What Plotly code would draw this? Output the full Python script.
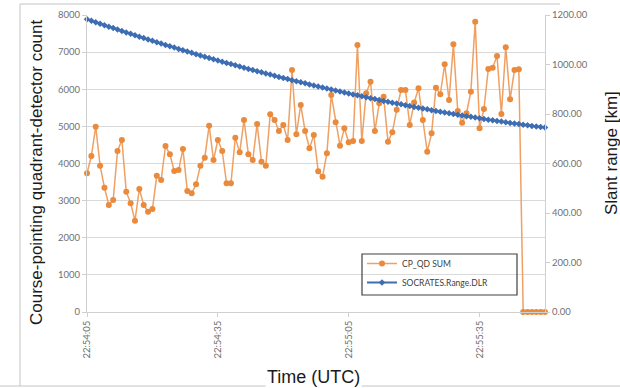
import pandas as pd
import plotly.graph_objects as go

# ---- data ----
start_time = "2000-01-01 22:54:05"
n_seconds = 106  # one sample per second, 22:54:05 .. 22:55:50

cp_qd_sum = [
    3736, 4202, 4993, 3942, 3349, 2883, 3017, 4337, 4634, 3241, 2928, 2460, 3313, 2883, 2702, 2775, 3672, 3556,
    4472, 4248, 3798, 3825, 4391, 3260, 3197, 3440, 3942, 4157, 5020, 4095, 4634, 4337, 3467, 3467, 4696, 4300,
    5172, 4248, 4095, 5065, 4049, 3942, 5326, 5172, 4876, 5038, 4634, 6520, 4787, 5577, 4876, 4410, 4768, 3790,
    3645, 4275, 5846, 5110, 4480, 4948, 4571, 4607, 7193, 4607, 5892, 6205, 4876, 5622, 5800, 4588, 4841, 5450,
    5980, 5980, 5038, 5640, 6026, 5172, 4318, 4814, 6043, 5865, 6673, 5711, 7212, 5415, 5100, 5353, 5935, 7821,
    4948, 5469, 6546, 6582, 6897, 5334, 7131, 5730, 6520, 6538,
    0, 0, 0, 0, 0, 0,
]

slant_range_km = [
    1183.0, 1176.9, 1170.9, 1164.9, 1158.9, 1152.9, 1147.0, 1141.2, 1135.3, 1129.5,
    1123.8, 1118.1, 1112.4, 1106.7, 1101.1, 1095.6, 1090.0, 1084.5, 1079.1, 1073.7,
    1068.3, 1062.9, 1057.6, 1052.3, 1047.1, 1041.9, 1036.7, 1031.6, 1026.5, 1021.4,
    1016.4, 1011.4, 1006.5, 1001.6, 996.7, 991.9, 987.1, 982.3, 977.6, 972.9,
    968.3, 963.6, 959.1, 954.5, 950.0, 945.6, 941.1, 936.7, 932.4, 928.1,
    923.8, 919.5, 915.3, 911.2, 907.0, 902.9, 898.9, 894.8, 890.9, 886.9,
    883.0, 879.1, 875.3, 871.5, 867.7, 864.0, 860.3, 856.6, 853.0, 849.4,
    845.9, 842.4, 838.9, 835.5, 832.1, 828.7, 825.4, 822.1, 818.8, 815.6,
    812.4, 809.3, 806.2, 803.1, 800.1, 797.1, 794.2, 791.2, 788.4, 785.5,
    782.7, 779.9, 777.2, 774.5, 771.8, 769.2, 766.6, 764.1, 761.5, 759.1,
    756.6, 754.2, 751.9, 749.5, 747.2, 745.0,
]

x_tick_labels = ["22:54:05", "22:54:35", "22:55:05", "22:55:35"]
left_ticks = [0, 1000, 2000, 3000, 4000, 5000, 6000, 7000, 8000]
right_ticks = [0, 200, 400, 600, 800, 1000, 1200]

times = pd.date_range(start_time, periods=n_seconds, freq="1s")
tick_vals = [pd.Timestamp("2000-01-01 " + t) for t in x_tick_labels]

# ---- geometry (pixels) ----
W, H = 620, 388
PL, PR, PT, PB = 87, 545, 15, 312


def px(xpix):
    return (xpix - PL) / (PR - PL)


def py(ypix):
    return (PB - ypix) / (PB - PT)


ORANGE_LINE = "#EFA062"
ORANGE_MARK = "#E98A3C"
BLUE = "#3D6DB3"
TICK_FONT = dict(family="Lato, Liberation Sans, Arial", size=9.5, color="#707070")
TITLE_FONT = dict(family="Liberation Sans, Arial", size=17, color="#1a1a1a")

fig = go.Figure()
fig.add_trace(go.Scatter(
    x=times, y=cp_qd_sum, name="CP_QD SUM", mode="lines+markers",
    line=dict(color=ORANGE_LINE, width=1.5),
    marker=dict(color=ORANGE_MARK, size=6, symbol="circle"),
    cliponaxis=False,
))
fig.add_trace(go.Scatter(
    x=times, y=slant_range_km, name="SOCRATES.Range.DLR", mode="lines+markers",
    line=dict(color=BLUE, width=2),
    marker=dict(color=BLUE, size=5, symbol="diamond"),
    yaxis="y2", cliponaxis=False,
))

fig.update_layout(
    width=W, height=H,
    margin=dict(l=PL, r=W - PR, t=PT, b=H - PB, autoexpand=False),
    paper_bgcolor="white", plot_bgcolor="white",
    showlegend=True,
    legend=dict(
        x=px(362), y=py(249), xanchor="left", yanchor="top",
        bgcolor="rgba(0,0,0,0)", borderwidth=0,
        font=dict(family="Lato, Liberation Sans, Arial", size=8.5, color="#404040"),
        tracegroupgap=0, itemwidth=30,
    ),
    xaxis=dict(
        type="date", range=[times[0], times[-1]],
        tickvals=tick_vals, ticktext=x_tick_labels, tickangle=-90,
        tickfont=TICK_FONT, showgrid=False,
        showline=True, linecolor="#d0d0d0", linewidth=1,
        ticks="outside", ticklen=4, tickcolor="#d0d0d0",
        zeroline=False, mirror=False,
    ),
    yaxis=dict(
        range=[0, 8000], tickvals=left_ticks, tickfont=TICK_FONT,
        showgrid=True, gridcolor="#d9d9d9", gridwidth=1,
        showline=True, linecolor="#d0d0d0", linewidth=1,
        ticks="outside", ticklen=4, tickcolor="#d0d0d0",
        zeroline=False,
    ),
    yaxis2=dict(
        range=[0, 1200], tickvals=right_ticks, tickformat=".2f",
        tickfont=TICK_FONT, overlaying="y", side="right",
        showgrid=False, showline=True, linecolor="#d0d0d0", linewidth=1,
        ticks="outside", ticklen=4, tickcolor="#d0d0d0",
        zeroline=False,
    ),
)

# frame of the screenshot + legend box
shapes = [
    dict(type="line", xref="paper", yref="paper", x0=px(20), x1=px(560), y0=py(4), y1=py(4),
         line=dict(color="#c4c4c4", width=1)),
    dict(type="line", xref="paper", yref="paper", x0=px(20), x1=px(20), y0=py(4), y1=py(386),
         line=dict(color="#c4c4c4", width=1)),
    dict(type="line", xref="paper", yref="paper", x0=px(0), x1=px(620), y0=py(386), y1=py(386),
         line=dict(color="#c4c4c4", width=1)),
    dict(type="rect", xref="paper", yref="paper", x0=px(362), x1=px(517), y0=py(254), y1=py(295),
         line=dict(color="#404040", width=1.2), fillcolor="rgba(0,0,0,0)"),
]
fig.update_layout(shapes=shapes)

annotations = [
    dict(text="Course-pointing quadrant-detector count", xref="paper", yref="paper",
         x=px(37), y=py(172), textangle=-90, showarrow=False, font=TITLE_FONT,
         xanchor="center", yanchor="middle", bgcolor="white"),
    dict(text="Slant range [km]", xref="paper", yref="paper",
         x=px(611), y=py(153), textangle=-90, showarrow=False, font=TITLE_FONT,
         xanchor="center", yanchor="middle"),
    dict(text="Time (UTC)", xref="paper", yref="paper",
         x=px(313), y=py(377), showarrow=False, font=dict(TITLE_FONT, size=18),
         xanchor="center", yanchor="middle", bgcolor="white"),
]
fig.update_layout(annotations=annotations)

fig.write_html("out.html")
